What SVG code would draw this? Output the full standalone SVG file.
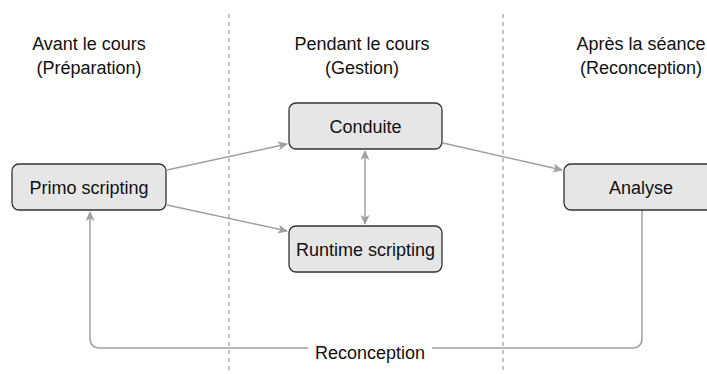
<svg xmlns="http://www.w3.org/2000/svg" width="707" height="374" viewBox="0 0 707 374">
<style>
text{font-family:"Liberation Sans",Arial,sans-serif;font-size:18px;fill:#111;text-anchor:middle}
.box{fill:#e6e6e6;stroke:#333;stroke-width:1.3}
.edge{fill:none;stroke:#a0a0a0;stroke-width:1.5}
.sep{stroke:#888;stroke-width:1;stroke-dasharray:4 4;fill:none}
</style>
<defs>
<marker id="ah" viewBox="0 0 10 10" refX="9" refY="5" markerWidth="10" markerHeight="10" orient="auto-start-reverse" markerUnits="userSpaceOnUse">
<path d="M0,0.5 L10,5 L0,9.5 L2.5,5 Z" fill="#a0a0a0"/>
</marker>
</defs>
<rect width="707" height="374" fill="#fff"/>
<g id="separators">
<line class="sep" x1="229" y1="14" x2="229" y2="374"/>
<line class="sep" x1="503" y1="14" x2="503" y2="374"/>
</g>
<g id="headers">
<text x="89" y="50">Avant le cours</text>
<text x="89" y="74">(Préparation)</text>
<text x="362" y="50">Pendant le cours</text>
<text x="362" y="74">(Gestion)</text>
<text x="641" y="50">Après la séance</text>
<text x="641" y="74">(Reconception)</text>
</g>
<g id="connectors">
<line class="edge" x1="167" y1="170" x2="287" y2="144" marker-end="url(#ah)"/>
<line class="edge" x1="167" y1="205" x2="287" y2="231" marker-end="url(#ah)"/>
<line class="edge" x1="443" y1="143" x2="562" y2="170" marker-end="url(#ah)"/>
<line class="edge" x1="365" y1="151" x2="365" y2="224" marker-start="url(#ah)" marker-end="url(#ah)"/>
<path class="edge" d="M642,210 V338 Q642,348 632,348 H432 M308,348 H100 Q90,348 90,338 V212" marker-end="url(#ah)"/>
<text x="370" y="359">Reconception</text>
</g>
<g id="primo">
<rect class="box" x="12" y="164" width="154" height="46" rx="7"/>
<text x="89" y="194">Primo scripting</text>
</g>
<g id="conduite">
<rect class="box" x="289" y="103" width="153" height="46" rx="7"/>
<text x="365.5" y="133">Conduite</text>
</g>
<g id="runtime">
<rect class="box" x="289" y="226" width="153" height="46" rx="7"/>
<text x="365.5" y="256">Runtime scripting</text>
</g>
<g id="analyse">
<rect class="box" x="564" y="164" width="154" height="46" rx="7"/>
<text x="641" y="194">Analyse</text>
</g>
</svg>
